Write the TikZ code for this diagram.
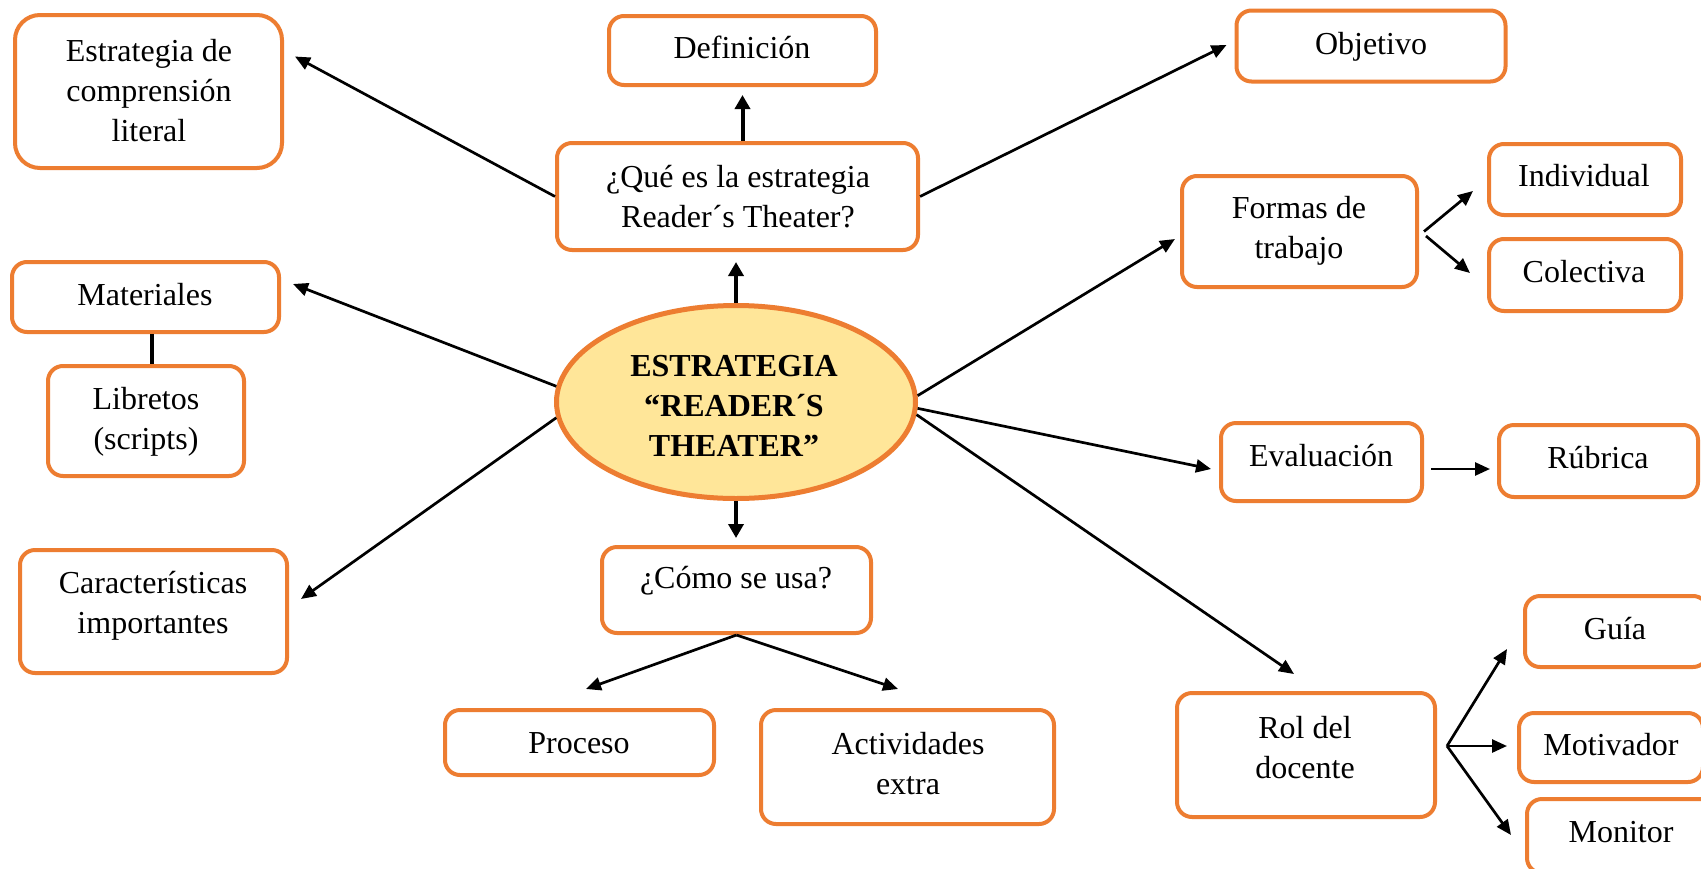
\documentclass[tikz,border=0pt]{standalone}
\usepackage{fontspec}
\setmainfont{Liberation Serif}
\usetikzlibrary{arrows.meta,shapes.geometric}
\definecolor{orng}{HTML}{ED7D31}
\definecolor{ellfill}{HTML}{FFE699}
\begin{document}
\begin{tikzpicture}[x=1pt,y=-1pt,
  box/.style 2 args={draw=orng, line width=4pt, rounded corners=15pt, fill=white, inner sep=0pt, minimum width=#1, minimum height=#2},
  txt/.style={font=\fontsize{32}{40}\selectfont, align=center, inner sep=0pt},
  arr/.style={line width=2.7pt, -{Triangle[length=15pt,width=13pt]}},
  varr/.style={line width=4pt, -{Triangle[length=14pt,width=15pt]}},
  link/.style={line width=4pt}]
\useasboundingbox (0,0) rectangle (1701,868);
\clip (0,0) rectangle (1701,868);
\fill[white] (0,0) rectangle (1701,868);

% boxes
\node[box={267pt}{153pt}, rounded corners=25pt] (lit) at (148.5,91.5) {};
\node[box={267pt}{69pt}] (def) at (742.5,50.5) {};
\node[box={361pt}{107pt}] (que) at (737.5,196.5) {};
\node[box={269pt}{71pt}] (obj) at (1371,46) {};
\node[box={235pt}{111pt}] (for) at (1299.5,231.5) {};
\node[box={192pt}{71pt}] (ind) at (1585,179.5) {};
\node[box={192pt}{72pt}] (col) at (1585,275) {};
\node[box={267pt}{70pt}] (mat) at (145.5,297) {};
\node[box={196pt}{110pt}] (lib) at (146,421) {};
\node[box={267pt}{123pt}] (car) at (153.5,611.5) {};
\node[ellipse, draw=orng, line width=5pt, fill=ellfill, minimum width=359pt, minimum height=193pt, inner sep=0pt] (ell) at (736,402) {};
\node[box={269pt}{86pt}] (como) at (736.5,590) {};
\node[box={269pt}{65pt}] (pro) at (579.5,742.5) {};
\node[box={293pt}{114pt}] (act) at (907.5,767) {};
\node[box={201pt}{78pt}] (eva) at (1321.5,462) {};
\node[box={199pt}{72pt}] (rub) at (1598.5,461) {};
\node[box={258pt}{124pt}] (rol) at (1306,755) {};
\node[box={183pt}{71pt}] (gui) at (1616.5,631.5) {};
\node[box={184pt}{69pt}] (mot) at (1611,747.5) {};
\node[box={188pt}{74pt}] (mon) at (1621,836) {};

% texts
\node[txt] (lit-t) at (149,91) {Estrategia de\\comprensión\\literal};
\node[txt] (def-t) at (742,47) {Definición};
\node[txt] (que-t) at (738,197) {¿Qué es la estrategia\\Reader´s Theater?};
\node[txt] (obj-t) at (1371,47) {Objetivo};
\node[txt] (for-t) at (1299,231) {Formas de\\trabajo};
\node[txt] (ind-t) at (1584,176) {Individual};
\node[txt] (col-t) at (1584,272) {Colectiva};
\node[txt] (mat-t) at (145,295) {Materiales};
\node[txt] (lib-t) at (146,422) {Libretos\\(scripts)};
\node[txt] (car-t) at (153,606) {Características\\importantes};
\node[txt, font=\fontsize{32}{40}\selectfont\bfseries] (ell-t) at (734,406) {ESTRATEGIA\\“READER´S\\THEATER”};
\node[txt] (como-t) at (736,581) {¿Cómo se usa?};
\node[txt] (pro-t) at (579,743) {Proceso};
\node[txt] (act-t) at (908,764) {Actividades\\extra};
\node[txt] (eva-t) at (1321,456) {Evaluación};
\node[txt] (rub-t) at (1598,458) {Rúbrica};
\node[txt] (rol-t) at (1305,748) {Rol del\\docente};
\node[txt] (gui-t) at (1615,629) {Guía};
\node[txt] (mot-t) at (1611,745) {Motivador};
\node[txt] (mon-t) at (1621,832) {Monitor};

% connectors
\draw[varr, shorten >=8pt] (que.north -| def.south) -- (def.south);
\draw[varr, shorten >=10pt] (ell.north) -- (que.south -| ell.north);
\draw[varr, shorten >=7pt] (ell.south) -- (como.north -| ell.south);
\draw[arr] (que.west) -- ([shift={(11,-35)}]lit.east);
\draw[arr] (que.east) -- ([shift={(-8,-1)}]obj.west);
\draw[arr] (ell.175) -- ([shift={(12,-13)}]mat.east);
\draw[arr] (ell.185) -- ([shift={(12,-12.5)}]car.east);
\draw[arr] (ell.2) -- ([shift={(-5,7.5)}]for.west);
\draw[arr] (ell.-2) -- ([shift={(-8,7)}]eva.west);
\draw[arr] (ell.-4) -- ([shift={(-12,-17)}]rol.north);
\draw[arr] (como.south) -- ([shift={(6.5,-19)}]pro.north);
\draw[arr] (como.south) -- ([shift={(-9.5,-19)}]act.north);
\draw[arr] ([shift={(7,7)}]eva.east) -- ([shift={(-7,8)}]rub.west);
\draw[arr] ([shift={(5,0)}]for.east) -- ([shift={(-14,11.5)}]ind.west);
\draw[arr] ([shift={(7,4.5)}]for.east) -- ([shift={(-17,-2)}]col.west);
\coordinate (rolo) at ([shift={(10,-9)}]rol.east);
\draw[arr] (rolo) -- ([shift={(-16,17.5)}]gui.west);
\draw[arr] (rolo) -- ([shift={(-10,-1.5)}]mot.west);
\draw[arr] (rolo) -- ([shift={(-14,-1)}]mon.west);
\draw[link] ([xshift=6.5pt]mat.south) -- ([xshift=6pt]lib.north);
\end{tikzpicture}
\end{document}
